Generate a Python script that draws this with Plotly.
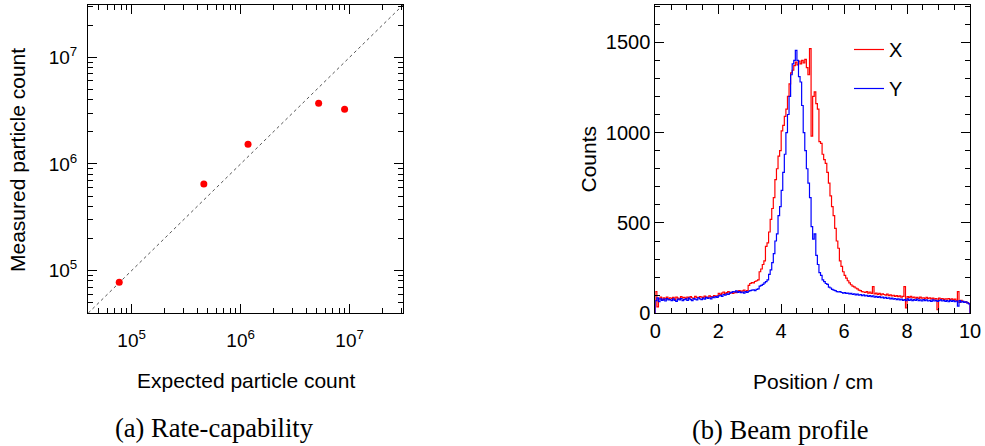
import numpy as np
import plotly.graph_objects as go

# ---------------- Data ----------------
# (a) Rate-capability
expected_count = [7.7e4, 4.6e5, 1.17e6, 5.2e6, 9.0e6]
measured_count = [7.8e4, 6.5e5, 1.53e6, 3.7e6, 3.25e6]
diag_range = [4e4, 3.1e7]
log_tick_vals = [1e5, 1e6, 1e7]
log_tick_text = ["10<sup>5</sup>", "10<sup>6</sup>", "10<sup>7</sup>"]

# (b) Beam profile: 200 bins of 0.05 cm between 0 and 10 cm
bin_lo, bin_hi, n_bins = 0.0, 10.0, 200
counts_x = [
    120, 35, 80, 90, 75, 85, 80, 90, 78, 86,
    82, 88, 76, 90, 84, 80, 92, 85, 88, 82,
    90, 84, 92, 86, 80, 94, 88, 86, 92, 90,
    88, 95, 90, 86, 96, 92, 90, 98, 94, 96,
    110, 104, 112, 118, 108, 114, 120, 112, 116, 110,
    118, 114, 122, 126, 118, 124, 128, 120, 126, 155,
    165, 170, 168, 176, 180, 185, 230, 245, 270, 290,
    370, 390, 450, 520, 580, 640, 740, 800, 870, 900,
    1010, 1040, 1090, 1130, 1200, 1270, 1330, 1345, 1370, 1390,
    1375, 1395, 1380, 1400, 1385, 1405, 1360, 1320, 1465, 980,
    1200, 1225, 1160, 1130, 950, 940, 880, 850, 830, 780,
    720, 650, 590, 540, 470, 400, 360, 290, 260, 230,
    210, 195, 180, 168, 158, 150, 146, 140, 135, 128,
    125, 120, 118, 115, 120, 112, 118, 110, 148, 108,
    112, 105, 110, 102, 108, 104, 100, 106, 98, 102,
    96, 100, 94, 98, 92, 96, 90, 94, 148, 30,
    92, 88, 94, 86, 90, 84, 88, 82, 90, 84,
    86, 80, 88, 82, 86, 80, 84, 78, 82, 20,
    84, 78, 82, 76, 80, 78, 82, 76, 80, 74,
    78, 70, 120, 60, 72, 66, 62, 64, 58, 55,
]
counts_y = [
    70, 85, 65, 80, 72, 78, 68, 82, 74, 76,
    70, 80, 72, 66, 78, 74, 82, 70, 76, 80,
    72, 84, 76, 70, 82, 78, 74, 86, 80, 76,
    84, 78, 88, 82, 86, 80, 90, 86, 92, 88,
    96, 100, 94, 104, 100, 108, 104, 112, 116, 120,
    118, 124, 116, 120, 114, 118, 112, 120, 116, 122,
    125, 128, 130, 126, 132, 135, 150, 155, 160, 168,
    175, 185, 215, 240, 280, 330, 400, 440, 540, 590,
    680, 780, 880, 1000, 1100, 1200, 1320, 1380, 1400, 1455,
    1400, 1310, 1280, 1150, 1000, 900, 800, 720, 640, 480,
    410, 440, 320, 270, 225, 210, 185, 175, 165, 160,
    145, 140, 132, 128, 126, 120, 118, 120, 115, 112,
    114, 110, 112, 108, 110, 104, 108, 102, 106, 100,
    104, 98, 102, 96, 100, 94, 98, 92, 96, 90,
    94, 88, 92, 86, 90, 84, 88, 82, 86, 80,
    84, 78, 82, 76, 80, 74, 78, 72, 76, 70,
    80, 72, 78, 70, 76, 72, 78, 70, 74, 68,
    76, 70, 74, 68, 72, 66, 74, 68, 72, 66,
    70, 74, 68, 72, 66, 70, 64, 72, 66, 70,
    64, 68, 40, 70, 62, 66, 60, 64, 58, 52,
]


def hist_outline(counts):
    edges = np.linspace(bin_lo, bin_hi, n_bins + 1)
    xs = np.concatenate([[edges[0]], edges[:-1], [edges[-1], edges[-1]]])
    ys = np.concatenate([[0], counts, [counts[-1], 0]])
    return xs, ys


# minor ticks of the log axes: 2..9 x each decade
log_minor = [m * 10.0 ** d for d in range(4, 8) for m in range(2, 10)]

SANS = "Liberation Sans, Arial, Helvetica, sans-serif"
SERIF = "Liberation Serif, Times New Roman, serif"

fig = go.Figure()

# ---- panel (a)
fig.add_trace(go.Scatter(
    x=diag_range, y=diag_range, mode="lines",
    line=dict(color="#555555", width=1, dash="dot"),
    xaxis="x", yaxis="y", showlegend=False, hoverinfo="skip"))
fig.add_trace(go.Scatter(
    x=expected_count, y=measured_count, mode="markers",
    marker=dict(color="#ff0000", size=7),
    xaxis="x", yaxis="y", showlegend=False))

# ---- panel (b)
hx, hy = hist_outline(counts_x)
fig.add_trace(go.Scatter(
    x=hx, y=hy, mode="lines", line=dict(color="#ff0000", width=1.2, shape="hv"),
    name="X", legendgroup="X", xaxis="x2", yaxis="y2"))
hx2, hy2 = hist_outline(counts_y)
fig.add_trace(go.Scatter(
    x=hx2, y=hy2, mode="lines", line=dict(color="#0000ff", width=1.2, shape="hv"),
    name="Y", legendgroup="Y", xaxis="x2", yaxis="y2"))

ydom = [1 - 313.3 / 446, 1 - 5 / 446]

common = dict(
    showline=True, linecolor="black", linewidth=1, mirror="allticks",
    ticks="inside", ticklen=9, tickwidth=1, tickcolor="black",
    showgrid=False, zeroline=False, automargin=False,
)
log_minor_cfg = dict(ticks="inside", ticklen=5, tickcolor="black", showgrid=False,
                     tickmode="array", tickvals=log_minor)

fig.update_layout(
    width=985, height=446,
    margin=dict(l=0, r=0, t=0, b=0, autoexpand=False),
    paper_bgcolor="white", plot_bgcolor="white",
    font=dict(family=SANS, color="black", size=20),
    showlegend=True,
    legend=dict(x=849 / 985, y=1 - 30 / 446, xanchor="left", yanchor="top",
                bgcolor="rgba(0,0,0,0)", font=dict(size=20, family=SANS),
                tracegroupgap=10, traceorder="grouped"),
    xaxis=dict(
        domain=[88 / 985, 403 / 985], type="log", range=[4.6, 7.49],
        tickmode="array", tickvals=log_tick_vals, ticktext=log_tick_text,
        tickfont=dict(size=19), ticklabelstandoff=10,
        minor=log_minor_cfg, anchor="y", **common),
    yaxis=dict(
        domain=ydom, type="log", range=[4.6, 7.49],
        tickmode="array", tickvals=log_tick_vals, ticktext=log_tick_text,
        tickfont=dict(size=19), ticklabelstandoff=6,
        minor=log_minor_cfg, anchor="x", **common),
    xaxis2=dict(
        domain=[655.3 / 985, 970 / 985], range=[0, 10], dtick=2, tick0=0,
        tickfont=dict(size=20), ticklabelstandoff=0,
        minor=dict(ticks="inside", ticklen=5, dtick=0.5, tickcolor="black", showgrid=False),
        anchor="y2", **common),
    yaxis2=dict(
        domain=ydom, range=[0, 1706], dtick=500, tick0=0,
        tickfont=dict(size=20), ticklabelstandoff=0,
        minor=dict(ticks="inside", ticklen=5, dtick=100, tickcolor="black", showgrid=False),
        anchor="x2", **common),
)

ann = [
    dict(text="Expected particle count", x=245.5 / 985, y=1 - 380 / 446,
         font=dict(size=21, family=SANS)),
    dict(text="Position / cm", x=812.6 / 985, y=1 - 381 / 446,
         font=dict(size=21, family=SANS)),
    dict(text="Measured particle count", x=18 / 985, y=1 - 160 / 446, textangle=-90,
         font=dict(size=21, family=SANS)),
    dict(text="Counts", x=588 / 985, y=1 - 159.5 / 446, textangle=-90,
         font=dict(size=21, family=SANS)),
    dict(text="(a) Rate-capability", x=214 / 985, y=1 - 428 / 446,
         font=dict(size=26.5, family=SERIF)),
    dict(text="(b) Beam profile", x=780.7 / 985, y=1 - 430 / 446,
         font=dict(size=26.5, family=SERIF)),
]
for a in ann:
    fig.add_annotation(xref="paper", yref="paper", showarrow=False,
                       xanchor="center", yanchor="middle", **a)

# remove the browser's default page margin so the figure sits at the window origin
fig.write_html(
    "out.html",
    config={"displayModeBar": False},
    post_script="document.body.style.margin='0';document.body.style.overflow='hidden';",
)
